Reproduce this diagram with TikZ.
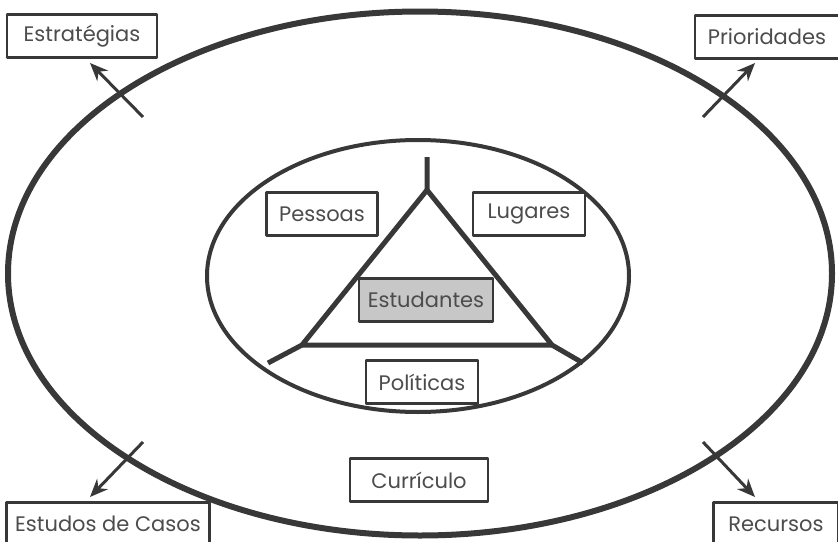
\documentclass[tikz,border=0pt]{standalone}
\usepackage{fontspec}
\setmainfont{Poppins}
\usetikzlibrary{arrows.meta}
\definecolor{ink}{HTML}{383838}
\tikzset{
  box/.style={draw=ink, line width=2.5pt, fill=white, text=ink!90, minimum height=43pt, minimum width=#1, inner xsep=4pt, inner ysep=0pt},
  box/.default=110pt,
  ring/.style={draw=ink},
}
\begin{document}
\begin{tikzpicture}[x=1pt, y=-1pt, font=\fontsize{21}{25}\selectfont, line join=round, >={Stealth[length=18pt,width=15pt]}]
    \useasboundingbox (0,0) rectangle (838,541);
    \draw[ring, line width=6pt] (420,273.5) ellipse [x radius=412, y radius=262];
    \draw[ring, line width=4pt] (418,276) ellipse [x radius=211, y radius=136];
    % triangle with its three legs
    \coordinate (stem) at (427,157);
    \coordinate (apex) at (427,190);
    \coordinate (bl) at (302,345);
    \coordinate (br) at (552,345);
    \coordinate (legl) at (268,363);
    \coordinate (legr) at (583,363);
    \draw[ink, line width=5pt] (apex) -- (bl) -- (br) -- cycle;
    \draw[ink, line width=5pt] (stem) -- (apex) (bl) -- (legl) (br) -- (legr);
    % labels
    \node[box=111pt] (pessoas) at (322,214) {Pessoas};
    \node[box=112pt] (lugares) at (529,214) {Lugares};
    \node[box=134pt, fill=black!22] (estudantes) at (426,300) {Estudantes};
    \node[box=112pt] (politicas) at (422,382) {Políticas};
    \node[box=138pt] (curriculo) at (419,480) {Currículo};
    \node[box=150pt] (estrategias) at (82,36) {Estratégias};
    \node[box=144pt] (prioridades) at (767,37) {Prioridades};
    \node[box=203pt] (estudos) at (108,524) {Estudos de Casos};
    \node[box=125pt] (recursos) at (776,524) {Recursos};
    % arrows through the outer ring
    \foreach \n/\x/\y/\tx/\ty in {a/143/117/90/63, b/703/117/755/63, c/143/442/90/497, d/703/442/755/497} {
      \coordinate (from\n) at (\x,\y);
      \coordinate (to\n) at (\tx,\ty);
      \draw[ink, line width=3pt, ->] (from\n) -- (to\n);
    }
\end{tikzpicture}
\end{document}
